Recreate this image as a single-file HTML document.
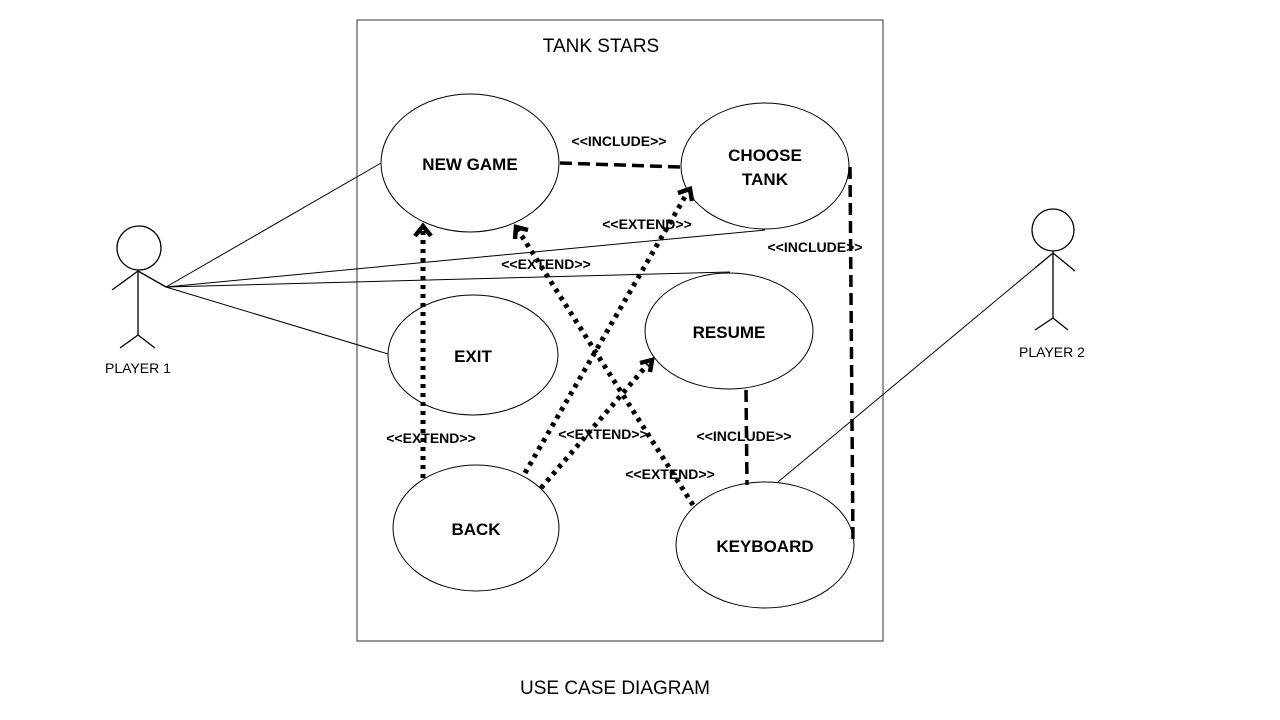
<!DOCTYPE html>
<html><head><style>
body{margin:0;background:#fff;}
svg{display:block;}
text{font-family:"Liberation Sans",sans-serif;}
.b{font-weight:bold;font-size:17px;}
.s{font-weight:bold;font-size:14px;}
</style></head><body>
<svg width="1280" height="720" viewBox="0 0 1280 720">
<rect x="357" y="20" width="526" height="621" fill="none" stroke="#333" stroke-width="1"/>
<text x="601" y="52" font-size="19" text-anchor="middle">TANK STARS</text>
<text x="615" y="694" font-size="19" text-anchor="middle">USE CASE DIAGRAM</text>
<g fill="none" stroke="#000" stroke-width="1">
<ellipse cx="470" cy="163" rx="89" ry="69"/>
<ellipse cx="765" cy="166" rx="84" ry="63"/>
<ellipse cx="473" cy="355" rx="85" ry="60"/>
<ellipse cx="729" cy="331" rx="84" ry="58"/>
<ellipse cx="476" cy="528" rx="83" ry="63"/>
<ellipse cx="765" cy="545" rx="89" ry="63"/>
</g>
<g fill="none" stroke="#000" stroke-width="1.3">
<circle cx="139" cy="248" r="22"/>
<line x1="138" y1="271" x2="138" y2="335"/>
<line x1="138" y1="271" x2="112" y2="290"/>
<line x1="138" y1="271" x2="166" y2="287"/>
<line x1="138" y1="335" x2="120" y2="348"/><line x1="138" y1="335" x2="155" y2="348"/>
<circle cx="1053" cy="230" r="21"/>
<line x1="1053" y1="251" x2="1053" y2="318"/>
<line x1="1053" y1="253" x2="1075" y2="271"/>
<line x1="1053" y1="253" x2="1035" y2="268"/>
<line x1="1053" y1="318" x2="1035" y2="330"/><line x1="1053" y1="318" x2="1068" y2="330"/>
</g>
<g fill="none" stroke="#000" stroke-width="1">
<line x1="166" y1="287" x2="381" y2="163"/>
<line x1="166" y1="287" x2="765" y2="230"/>
<line x1="166" y1="287" x2="730" y2="272"/>
<line x1="166" y1="287" x2="388" y2="354"/>
<line x1="1035" y1="268" x2="778" y2="482"/>
</g>
<g fill="none" stroke="#000" stroke-width="5" stroke-dasharray="4 5">
<line x1="423" y1="478" x2="423" y2="230"/>
<line x1="693" y1="505" x2="518" y2="230"/>
<line x1="525" y1="473" x2="686" y2="195"/>
<line x1="541" y1="488" x2="648" y2="364"/>
</g>
<g fill="none" stroke="#000" stroke-width="4.5">
<polyline points="415,236 423,226 431,236"/>
<polyline points="515,239 516,227 528,230"/>
<polyline points="678,193 690,189 692,201"/>
<polyline points="640,363 652,360 650,372"/>
</g>
<g fill="none" stroke="#000" stroke-width="3.5" stroke-dasharray="12 6">
<line x1="560" y1="163" x2="681" y2="167"/>
<line x1="850" y1="167" x2="853" y2="545"/>
<line x1="746" y1="390" x2="747" y2="485"/>
</g>
<g text-anchor="middle">
<text class="b" x="470" y="170">NEW GAME</text>
<text class="b" x="765" y="161">CHOOSE</text>
<text class="b" x="765" y="185">TANK</text>
<text class="b" x="473" y="362">EXIT</text>
<text class="b" x="729" y="338">RESUME</text>
<text class="b" x="476" y="535">BACK</text>
<text class="b" x="765" y="552">KEYBOARD</text>
<text class="s" x="619" y="146">&lt;&lt;INCLUDE&gt;&gt;</text>
<text class="s" x="647" y="229">&lt;&lt;EXTEND&gt;&gt;</text>
<text class="s" x="815" y="252">&lt;&lt;INCLUDE&gt;&gt;</text>
<text class="s" x="546" y="269">&lt;&lt;EXTEND&gt;&gt;</text>
<text class="s" x="431" y="443">&lt;&lt;EXTEND&gt;&gt;</text>
<text class="s" x="603" y="439">&lt;&lt;EXTEND&gt;&gt;</text>
<text class="s" x="744" y="441">&lt;&lt;INCLUDE&gt;&gt;</text>
<text class="s" x="670" y="479">&lt;&lt;EXTEND&gt;&gt;</text>
</g>
<text x="138" y="373" font-size="14" text-anchor="middle">PLAYER 1</text>
<text x="1052" y="357" font-size="14" text-anchor="middle">PLAYER 2</text>
</svg>
</body></html>
